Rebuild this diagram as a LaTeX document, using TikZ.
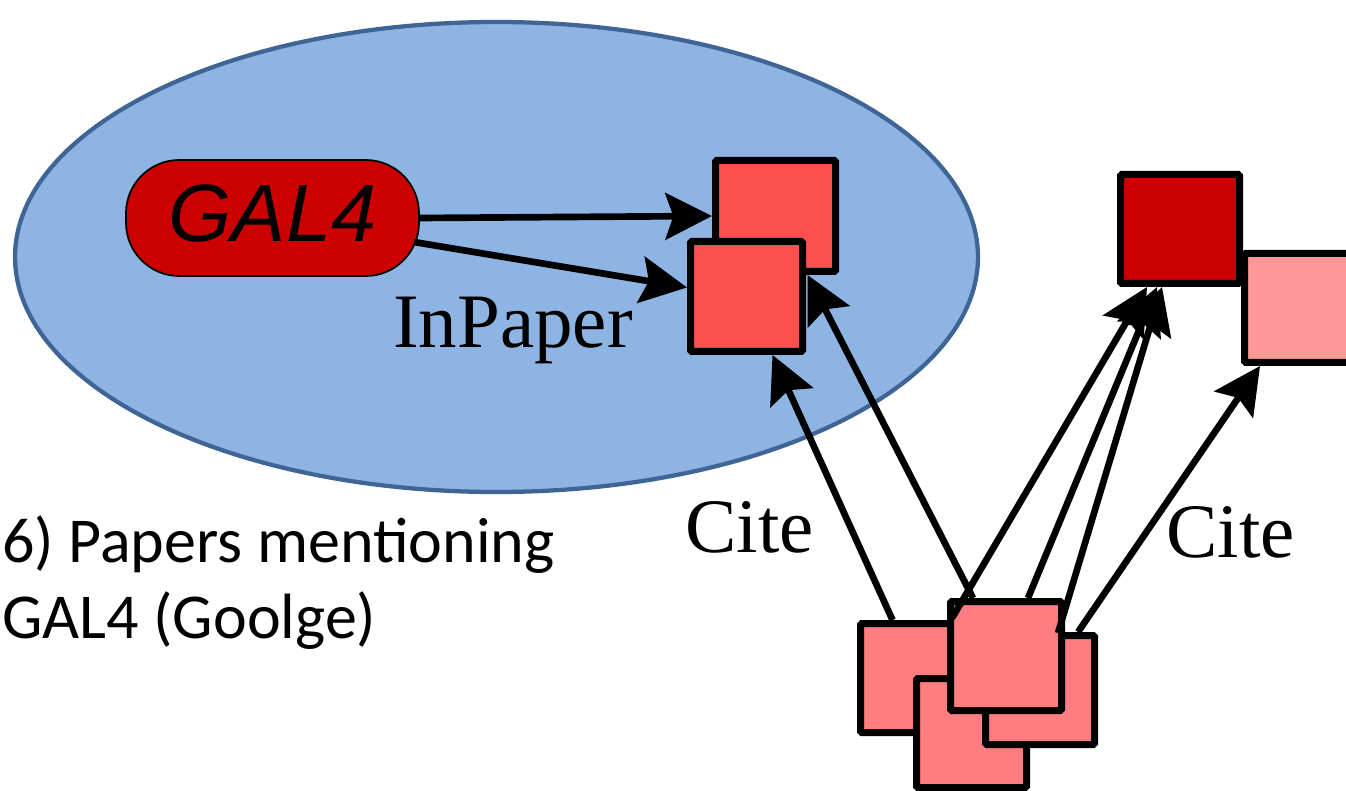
\documentclass[tikz,border=0pt]{standalone}
\usepackage{fontspec}
\setmainfont{Liberation Serif}
\newfontfamily\arialfont{Liberation Sans}
\newfontfamily\calibrifont{Carlito}
\usetikzlibrary{arrows.meta,calc}

\definecolor{skyfill}{HTML}{8EB4E3}
\definecolor{skyline}{HTML}{3E6596}
\definecolor{genered}{HTML}{CC0000}
\definecolor{hitred}{HTML}{FF5050}
\definecolor{citepink}{HTML}{FF7C80}
\definecolor{palepink}{HTML}{FF9999}

\begin{document}
\begin{tikzpicture}[x=0.75pt,y=-0.75pt,
  paper/.style={draw=black, line width=5.25pt, rectangle, inner sep=0pt,
    outer sep=2.6pt, rounded corners=1pt},
  link/.style={line width=5pt, -{Stealth[length=35pt,width=35pt,inset=6pt]}},
  biglabel/.style={font=\fontsize{57.75}{60}\selectfont, inner sep=0pt, anchor=base west}]

\useasboundingbox (0,0) rectangle (1346,791);

% group of papers that mention the gene
\draw[fill=skyfill, draw=skyline, line width=3.2pt]
  (496.5,257) ellipse [x radius=361.1pt, y radius=176.25pt];

\node[draw=black, line width=1.3pt, fill=genered, rounded corners=40pt,
  minimum width=219.75pt, minimum height=87pt, inner sep=0pt,
  font=\arialfont\itshape\fontsize{61}{61}\selectfont,
  text height=36pt, text depth=0pt] (GAL4) at (272.5,218) {GAL4};

% papers
\node[paper, fill=hitred, minimum width=90pt, minimum height=83.25pt]  (A) at (775.5,216) {};
\node[paper, fill=hitred, minimum width=84pt, minimum height=82.5pt] (B) at (746.5,296.5) {};
\node[paper, fill=genered, minimum width=89.25pt, minimum height=81.75pt] (C) at (1180,229) {};
\node[paper, fill=palepink, minimum width=83.25pt, minimum height=81.75pt] (D) at (1300,308) {};
\node[paper, fill=citepink, minimum width=81pt, minimum height=81.75pt] (E) at (914.5,678) {};
\node[paper, fill=citepink, minimum width=82.5pt, minimum height=81.75pt] (F) at (971.5,733) {};
\node[paper, fill=citepink, minimum width=81.75pt, minimum height=81.75pt] (G) at (1040,690) {};
\node[paper, fill=citepink, minimum width=83.25pt, minimum height=81.75pt] (H) at (1006,656) {};

% relations
\draw[link] (GAL4.east) -- (A.west);
\draw[link] ($(GAL4.east)+(-6,24)$) -- ($(B.west)+(0,-9)$);
\draw[link] ($(E.north)+(-22,0)$) -- ($(B.south)+(26,0)$);
\draw[link] ($(H.north)+(-33,0)$) -- ($(A.south)+(32,0)$);
\draw[link] ($(H.north west)+(5,20)$) -- ($(C.south)+(-33,0)$);
\draw[link] ($(H.north)+(22,0)$) -- ($(C.south)+(-23,0)$);
\draw[link] ($(H.north east)+(-7,35)$) -- ($(C.south)+(-18,0)$);
\draw[link] ($(G.north)+(38,0)$) -- ($(D.south west)+(19,0)$);

% labels
\node[biglabel] (inpaper) at (393,348) {InPaper};
\node[biglabel] (citeL) at (685,552) {Cite};
\node[biglabel] (citeR) at (1166,557) {Cite};
\node[font=\calibrifont\fontsize{48}{57}\selectfont, align=left,
  anchor=base west, inner sep=0pt] (caption) at (2,638)
  {6) Papers mentioning\\GAL4 (Goolge)};

\end{tikzpicture}
\end{document}
